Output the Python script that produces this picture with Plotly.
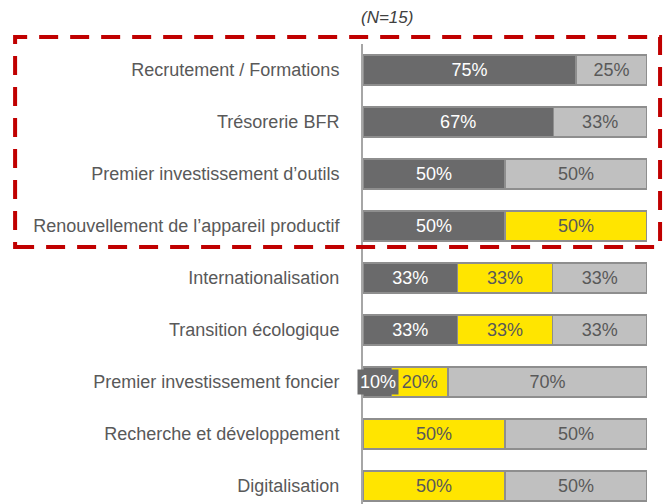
import plotly.graph_objects as go

categories = [
    "Recrutement / Formations",
    "Trésorerie BFR",
    "Premier investissement d’outils",
    "Renouvellement de l’appareil productif",
    "Internationalisation",
    "Transition écologique",
    "Premier investissement foncier",
    "Recherche et développement",
    "Digitalisation",
]
dark_vals = [75, 67, 50, 50, 33.33, 33.33, 10, 0, 0]
yellow_vals = [0, 0, 0, 50, 33.33, 33.33, 20, 50, 50]
light_vals = [25, 33, 50, 0, 33.34, 33.34, 70, 50, 50]
n_label = "(N=15)"

DARK = "#6a6a6b"
YELLOW = "#ffe500"
LIGHT = "#c0c0c0"
OUTLINE = "#8e8e8e"
TXT = "#595959"
FONT = "Liberation Sans, Arial, sans-serif"

ypos = list(range(len(categories)))


def labels(vals, skip=None):
    out = []
    for i, v in enumerate(vals):
        if v <= 0 or (skip is not None and i == skip):
            out.append("")
        else:
            out.append(f"{round(v)}%")
    return out


small_idx = 6  # the 10% segment gets a boxed annotation

fig = go.Figure()
for vals, color, tcolor, skip in [
    (dark_vals, DARK, "white", small_idx),
    (yellow_vals, YELLOW, TXT, None),
    (light_vals, LIGHT, TXT, None),
]:
    fig.add_trace(go.Bar(
        y=ypos, x=vals, orientation="h",
        marker=dict(color=color, line=dict(color=OUTLINE, width=1.5)),
        width=0.58,
        text=labels(vals, skip),
        textposition="inside", insidetextanchor="middle",
        constraintext="none",
        textfont=dict(color=tcolor, size=18, family=FONT),
        hoverinfo="skip",
    ))

fig.add_annotation(
    x=5.3, y=small_idx, xref="x", yref="y",
    xanchor="center", yanchor="middle",
    text=f"{dark_vals[small_idx]}%", showarrow=False,
    font=dict(color="white", size=18, family=FONT),
    bgcolor=DARK, borderpad=2,
)

fig.add_annotation(
    x=0.083, y=1.0, xref="paper", yref="paper", yshift=27,
    xanchor="center", yanchor="middle",
    text=f"<i>{n_label}</i>", showarrow=False,
    font=dict(color="#404040", size=17, family=FONT),
)

fig.add_shape(
    type="rect", xref="paper", yref="paper",
    x0=-1.225, x1=1.046, y0=0.566, y1=1.015,
    line=dict(color="#c00000", width=4, dash="19px,12px"),
    fillcolor="rgba(0,0,0,0)", layer="above",
)

fig.update_layout(
    width=672, height=504,
    margin=dict(l=355, r=33, t=36, b=0),
    barmode="stack", bargap=0.42,
    showlegend=False,
    plot_bgcolor="white", paper_bgcolor="white",
    font=dict(family=FONT, color=TXT, size=18),
    xaxis=dict(range=[0, 100], visible=False, fixedrange=True),
    yaxis=dict(
        range=[8.5, -0.5], tickvals=ypos, ticktext=categories,
        showline=True, linecolor="#a6a6a6", linewidth=2,
        showgrid=False, zeroline=False, ticks="",
        ticklabelstandoff=18,
        tickfont=dict(size=18, color=TXT, family=FONT),
    ),
)

fig.write_html("out.html")
